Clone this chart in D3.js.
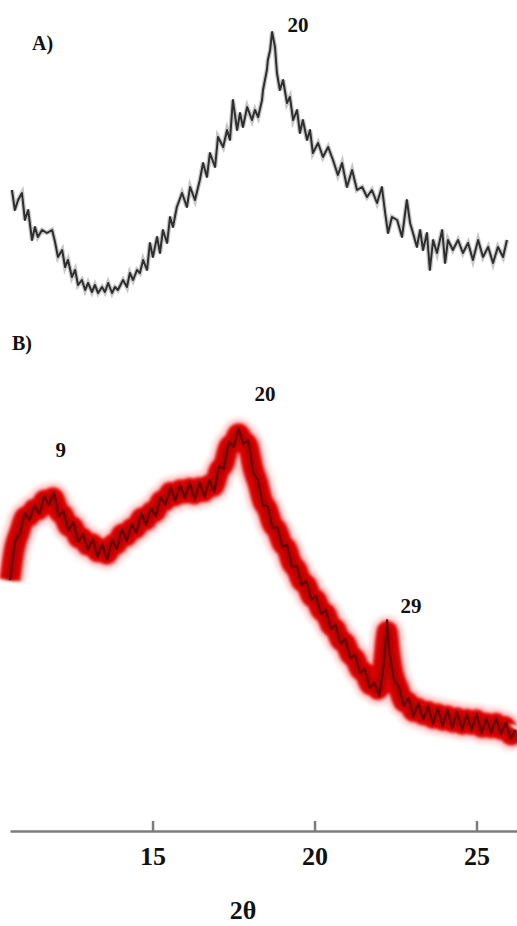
<!DOCTYPE html>
<html>
<head>
<meta charset="utf-8">
<script src="https://cdn.jsdelivr.net/npm/d3@7"></script>
<style>
  body{margin:0;background:#fff}
  svg{display:block}
  text{font-family:"Liberation Serif","Times New Roman",serif;font-weight:bold;fill:#111}
</style>
</head>
<body>
<div id="chart"><svg></svg></div>
<script>
// panel A (grey trace), 2theta vs counts
const thetaA = [10.66,10.75,10.85,10.97,11.06,11.16,11.28,11.37,11.46,11.59,
  11.74,11.90,11.99,12.08,12.21,12.30,12.39,12.51,12.61,12.70,
  12.82,12.92,13.01,13.13,13.22,13.32,13.44,13.53,13.63,13.75,
  13.84,13.93,14.09,14.21,14.30,14.40,14.52,14.61,14.71,14.83,
  14.92,15.01,15.14,15.23,15.32,15.45,15.54,15.63,15.75,15.91,
  16.06,16.16,16.31,16.46,16.56,16.68,16.77,16.93,17.02,17.18,
  17.30,17.39,17.48,17.61,17.70,17.79,17.92,18.07,18.16,18.26,
  18.38,18.41,18.53,18.56,18.63,18.69,18.78,18.84,18.93,19.03,
  19.15,19.24,19.34,19.46,19.55,19.64,19.77,19.86,19.95,20.11,
  20.26,20.42,20.57,20.72,20.85,21.00,21.16,21.31,21.47,21.62,
  21.77,21.93,22.08,22.18,22.27,22.39,22.55,22.70,22.85,22.95,
  23.04,23.16,23.26,23.35,23.47,23.56,23.66,23.78,23.94,24.03,
  24.12,24.27,24.43,24.58,24.74,24.89,25.05,25.20,25.36,25.51,
  25.66,25.82,25.94]
const countsA = [110,90,100,107,80,90,60,73,63,70,
  67,70,58,43,50,33,40,23,30,15,
  20,10,17,8,15,7,13,8,17,7,
  13,10,20,13,27,20,30,27,40,30,
  57,43,63,47,70,57,83,73,93,107,
  93,113,100,120,137,123,147,133,163,153,
  170,160,200,170,187,173,193,180,190,183,
  200,210,230,240,250,268,253,227,210,220,
  197,203,180,190,167,180,160,170,147,157,
  143,153,140,125,137,113,130,110,113,103,
  110,97,113,87,67,83,80,63,100,77,
  67,53,70,50,67,30,60,47,70,37,
  60,50,60,47,57,40,60,43,53,37,
  53,43,60]

// panel B (red trace)
const thetaB = [10.60,10.75,10.90,11.05,11.20,11.35,11.50,11.65,11.80,11.95,
  12.10,12.25,12.40,12.55,12.70,12.85,13.00,13.15,13.30,13.45,
  13.60,13.75,13.90,14.05,14.20,14.35,14.50,14.65,14.80,14.95,
  15.10,15.25,15.40,15.55,15.70,15.85,16.00,16.15,16.30,16.45,
  16.60,16.75,16.90,17.05,17.20,17.35,17.50,17.65,17.80,17.95,
  18.10,18.25,18.40,18.55,18.70,18.85,19.00,19.15,19.30,19.45,
  19.60,19.75,19.90,20.05,20.20,20.35,20.50,20.65,20.80,20.95,
  21.10,21.25,21.40,21.55,21.70,21.85,22.00,22.15,22.24,22.30,
  22.45,22.60,22.75,22.90,23.05,23.20,23.35,23.50,23.65,23.80,
  23.95,24.10,24.25,24.40,24.55,24.70,24.85,25.00,25.15,25.30,
  25.45,25.60,25.75,25.90,26.05,26.20]
const countsB = [180,218,226,247,240,255,246,264,255,268,
  244,249,229,238,218,226,210,221,203,216,
  200,220,211,231,219,236,227,247,235,252,
  244,263,255,273,259,275,262,277,260,278,
  263,280,268,294,291,318,313,332,316,320,
  288,280,255,254,232,233,213,215,193,194,
  175,179,160,164,146,150,131,135,116,121,
  102,105,87,91,72,77,64,100,140,110,
  80,73,54,62,43,57,40,54,36,52,
  34,50,32,48,30,46,30,46,27,42,
  27,42,26,38,21,30]

const xTicks = [15,20,25]
// peak labels: [2theta, counts, text]
const labelsA = [[19.49,268,'20']]
const labelsB = [[12.17,303,'9'],[18.47,359,'20'],[22.98,147,'29']]

const width = 517, height = 926
const svg = d3.select('#chart').select('svg')
  .attr('width',width)
  .attr('height',height)

const x = d3.scaleLinear().domain([10.6,26.25]).range([10,517])
const yA = d3.scaleLinear().domain([0,270]).range([300,30])
const yB = d3.scaleLinear().domain([0,360]).range([760,400])

const defs = svg.append('defs')
defs.append('filter').attr('id','soft').append('feGaussianBlur').attr('stdDeviation',0.7)
defs.append('filter').attr('id','glow')
  .attr('x','-10%').attr('y','-10%').attr('width','120%').attr('height','120%')
  .append('feGaussianBlur').attr('stdDeviation',2.5)
defs.append('filter').attr('id','band')
  .attr('x','-10%').attr('y','-10%').attr('width','120%').attr('height','120%')
  .append('feGaussianBlur').attr('stdDeviation',1.4)

// panel A
const ptsA = thetaA.map((t,i)=>[t,countsA[i]])
const lineA = d3.line().x(d=>x(d[0])).y(d=>yA(d[1]))
svg.append('path').datum(ptsA)
  .attr('d',lineA).attr('fill','none')
  .attr('stroke','#9a9a9a').attr('stroke-width',4.5).attr('opacity',0.55)
  .attr('filter','url(#soft)')
svg.append('path').datum(ptsA)
  .attr('d',lineA).attr('fill','none')
  .attr('stroke','#2e2e2e').attr('stroke-width',2)
  .attr('stroke-linejoin','round')

svg.append('text').attr('x',32).attr('y',50).attr('font-size',20).text('A)')
svg.selectAll('.labA').data(labelsA).enter().append('text')
  .attr('class','labA')
  .attr('x',d=>x(d[0])).attr('y',d=>yA(d[1]))
  .attr('text-anchor','middle').attr('font-size',21)
  .text(d=>d[2])

// panel B
const ptsB = thetaB.map((t,i)=>[t,countsB[i]])
const lineB = d3.line().x(d=>x(d[0])).y(d=>yB(d[1]))
const smoothB = d3.line().x(d=>x(d[0])).y(d=>yB(d[1])).curve(d3.curveBasis)
svg.append('path').datum(ptsB)
  .attr('d',smoothB).attr('fill','none')
  .attr('stroke','#ff8f8f').attr('stroke-width',30).attr('opacity',0.5)
  .attr('filter','url(#glow)')
svg.append('path').datum(ptsB)
  .attr('d',smoothB).attr('fill','none')
  .attr('stroke','#dc0606').attr('stroke-width',21)
  .attr('stroke-linejoin','round')
  .attr('filter','url(#band)')
svg.append('path').datum(ptsB)
  .attr('d',smoothB).attr('fill','none')
  .attr('stroke','#a80000').attr('stroke-width',10).attr('opacity',0.7)
  .attr('filter','url(#band)')
svg.append('path').datum(ptsB)
  .attr('d',lineB).attr('fill','none')
  .attr('stroke','#5a0000').attr('stroke-width',2.2)
  .attr('stroke-linejoin','round').attr('opacity',0.85)

svg.append('text').attr('x',12).attr('y',350).attr('font-size',20).text('B)')
svg.selectAll('.labB').data(labelsB).enter().append('text')
  .attr('class','labB')
  .attr('x',d=>x(d[0])).attr('y',d=>yB(d[1]))
  .attr('text-anchor','middle').attr('font-size',21)
  .text(d=>d[2])

// x axis
const axis = svg.append('g')
  .attr('transform','translate(0,831)')
  .call(d3.axisBottom(x).tickValues(xTicks).tickSizeInner(-10).tickSizeOuter(0).tickPadding(16))
axis.select('.domain').attr('stroke','#7c7c7c').attr('stroke-width',2.5)
axis.selectAll('.tick line').attr('stroke','#7c7c7c').attr('stroke-width',2.5)
axis.selectAll('.tick text')
  .attr('font-size',26)
  .attr('font-family','"Liberation Serif","Times New Roman",serif')
  .attr('font-weight','bold').attr('fill','#111')

svg.append('text').attr('x',243).attr('y',919)
  .attr('text-anchor','middle').attr('font-size',26)
  .text('2θ')
</script>
</body>
</html>
